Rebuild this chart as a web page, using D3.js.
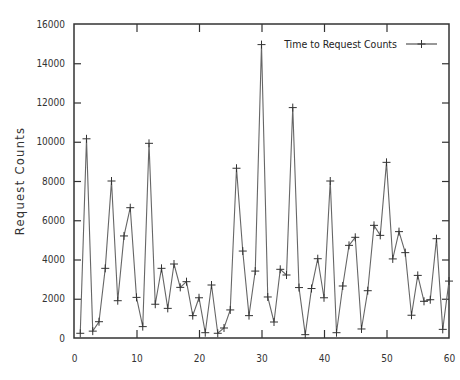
<!DOCTYPE html>
<html>
<head>
<meta charset="utf-8">
<script src="https://cdn.jsdelivr.net/npm/d3@7"></script>
<style>
  body { margin: 0; background: #fff; }
  svg { display: block; }
  .axis text { font-family: "DejaVu Sans Condensed", "DejaVu Sans", sans-serif; font-size: 10px; fill: #333; }
  .axis line { stroke: #333; stroke-width: 1.2; }
</style>
</head>
<body>
<svg width="460" height="380"></svg>
<script>
// time index (x) and request counts (y)
const times = [1,2,3,4,5,6,7,8,9,10,11,12,13,14,15,16,17,18,19,20,
               21,22,23,24,25,26,27,28,29,30,31,32,33,34,35,36,37,38,39,40,
               41,42,43,44,45,46,47,48,49,50,51,52,53,54,55,56,57,58,59,60];
const counts = [240,10150,350,830,3550,8000,1900,5200,6640,2070,580,9920,1720,3550,1510,3770,2580,2870,1140,2050,
                270,2700,240,510,1430,8650,4430,1140,3410,14950,2090,815,3500,3210,11740,2570,170,2520,4040,2050,
                8000,270,2650,4720,5130,460,2410,5740,5230,8950,4030,5420,4350,1160,3190,1870,1950,5060,440,2900];
const xTicks = [0,10,20,30,40,50,60];
const yTicks = [0,2000,4000,6000,8000,10000,12000,14000,16000];
const seriesName = 'Time to Request Counts';
const yTitle = 'Request Counts';

const pLeft = 74, pRight = 449, pTop = 24, pBottom = 338;
const svg = d3.select('svg');

var x = d3.scaleLinear().domain([0, 60]).range([pLeft, pRight]);
var y = d3.scaleLinear().domain([0, 16000]).range([pBottom, pTop]);
const fmt = d3.format('d');

// axes, ticks point inward like gnuplot
svg.append('g').attr('class', 'axis').attr('transform', `translate(0,${pBottom})`)
  .call(d3.axisBottom(x).tickValues(xTicks).tickSize(-8).tickPadding(17).tickFormat(fmt))
  .call(g => g.select('.domain').remove());
svg.append('g').attr('class', 'axis').attr('transform', `translate(0,${pTop})`)
  .call(d3.axisTop(x).tickValues(xTicks).tickSize(-8).tickFormat(''))
  .call(g => g.select('.domain').remove());
svg.append('g').attr('class', 'axis').attr('transform', `translate(${pLeft},0)`)
  .call(d3.axisLeft(y).tickValues(yTicks).tickSize(-7).tickPadding(9).tickFormat(fmt))
  .call(g => g.select('.domain').remove());
svg.append('g').attr('class', 'axis').attr('transform', `translate(${pRight},0)`)
  .call(d3.axisRight(y).tickValues(yTicks).tickSize(-7).tickFormat(''))
  .call(g => g.select('.domain').remove());

// first / last tick sit on the frame; hide them
svg.selectAll('.axis .tick').filter(d => d === 0 || d === 60 || d === 16000).select('line').remove();

svg.append('rect')
  .attr('x', pLeft).attr('y', pTop)
  .attr('width', pRight - pLeft).attr('height', pBottom - pTop)
  .attr('fill', 'none').attr('stroke', '#333').attr('stroke-width', 1.5);

var data = times.map((t, i) => ({t: t, c: counts[i]}));

svg.append('path').datum(data)
  .attr('fill', 'none').attr('stroke', '#666').attr('stroke-width', 1.1)
  .attr('d', d3.line().x(d => x(d.t)).y(d => y(d.c)));

function cross(g, cx, cy) {
  g.append('path')
    .attr('d', `M${cx - 4},${cy}H${cx + 4}M${cx},${cy - 4}V${cy + 4}`)
    .attr('stroke', '#333').attr('stroke-width', 1).attr('fill', 'none');
}
var pts = svg.append('g');
data.forEach(d => cross(pts, x(d.t), y(d.c)));

// legend
var lg = svg.append('g');
lg.append('text').attr('x', 397).attr('y', 44).attr('dy', '0.35em')
  .attr('text-anchor', 'end')
  .style('font-family', '"DejaVu Sans Condensed", "DejaVu Sans", sans-serif')
  .style('font-size', '10.5px').style('fill', '#222')
  .text(seriesName);
lg.append('line').attr('x1', 406).attr('x2', 437).attr('y1', 44).attr('y2', 44)
  .attr('stroke', '#444').attr('stroke-width', 1.1);
cross(lg, 421.5, 44);

svg.append('text')
  .attr('transform', `translate(20,${181}) rotate(-90)`)
  .attr('text-anchor', 'middle').attr('dy', '0.35em')
  .style('font-family', '"DejaVu Sans", sans-serif')
  .style('font-size', '11.5px').style('letter-spacing', '1.3px').style('fill', '#333')
  .text(yTitle);
</script>
</body>
</html>
